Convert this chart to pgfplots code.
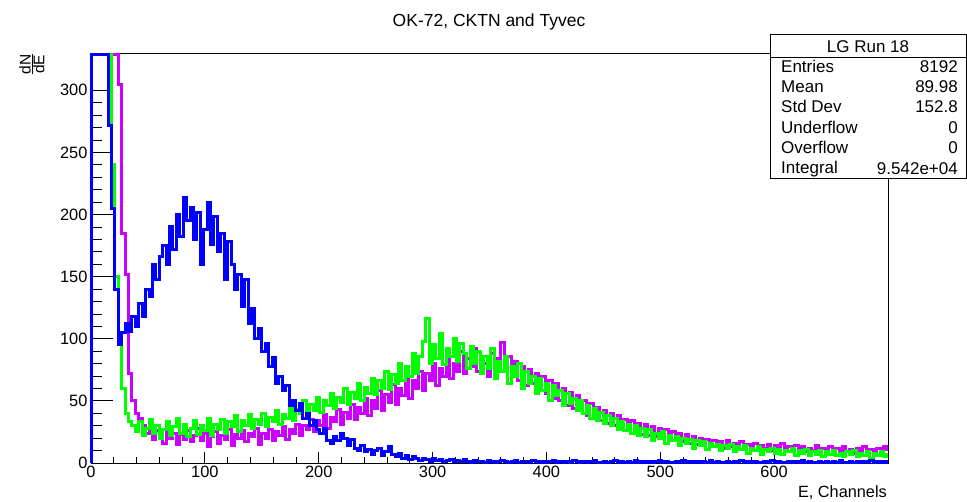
\documentclass[border=0pt]{standalone}
\usepackage{fontspec}
\setmainfont{Liberation Sans}
\usepackage{pgfplots}
\pgfplotsset{compat=1.18}
\definecolor{hblue}{RGB}{0,0,255}
\definecolor{hgreen}{RGB}{0,255,0}
\definecolor{hviolet}{RGB}{204,0,255}
\pgfplotsset{
  rootframe/.style={
    at={(91pt,39pt)}, anchor=south west,
    scale only axis, width=797pt, height=410pt,
    xmin=0, xmax=700, ymin=0, ymax=330,
    axis line style={black, line width=0.8pt},
    tick style={black, line width=0.8pt},
    /pgf/number format/assume math mode=true,
    tick label style={font=\fontsize{16.4}{19}\selectfont},
    clip=false,
  }
}
\begin{document}
\begin{tikzpicture}[x=1pt,y=1pt]
\path[use as bounding box, fill=white] (0,0) rectangle (967,502);
% x ticks axis
\begin{axis}[rootframe,
  xtick={0,100,...,600}, minor x tick num=4, ytick=\empty,
  xtick pos=bottom, major tick length=11pt, minor tick length=6pt]
\end{axis}
% data + y ticks
\begin{axis}[rootframe,
  ytick={0,50,...,300}, minor y tick num=4, xtick=\empty,
  ytick pos=left, major tick length=22pt, minor tick length=11pt,
  every axis plot/.append style={const plot, line width=3pt, mark=none}]
\addplot[hviolet] coordinates {(0,0)(0,329)(3,329)(6,329)(9,329)(12,329)(15,329)(18,329)(21,329)(24,305)(27,185)(30,152)(33,72)(36,50)(39,40)(42,36)(45,30)(48,24)(51,28)(54,19)(57,26)(60,22)(63,16)(66,27)(69,20)(72,24)(75,15)(78,23)(81,19)(84,26)(87,17)(90,22)(93,28)(96,18)(99,24)(102,13)(105,21)(108,25)(111,16)(114,22)(117,19)(120,27)(123,14)(126,23)(129,20)(132,26)(135,17)(138,24)(141,21)(144,28)(147,15)(150,24)(153,20)(156,27)(159,18)(162,25)(165,22)(168,29)(171,19)(174,27)(177,24)(180,31)(183,22)(186,30)(189,27)(192,35)(195,25)(198,34)(201,30)(204,39)(207,28)(210,37)(213,33)(216,43)(219,31)(222,41)(225,36)(228,47)(231,35)(234,45)(237,40)(240,52)(243,38)(246,50)(249,44)(252,58)(255,42)(258,55)(261,49)(264,63)(267,47)(270,60)(273,54)(276,68)(279,52)(282,66)(285,60)(288,74)(291,58)(294,72)(297,66)(300,80)(303,62)(306,76)(309,70)(312,86)(315,68)(318,80)(321,74)(324,90)(327,72)(330,84)(333,78)(336,92)(339,74)(342,86)(345,80)(348,70)(351,88)(354,76)(357,84)(360,97)(363,74)(366,86)(369,70)(372,82)(375,66)(378,78)(381,62)(384,75)(387,64)(390,72)(393,58)(396,70)(399,56)(402,66)(405,52)(408,64)(411,50)(414,60)(417,46)(420,57)(423,44)(426,54)(429,42)(432,50)(435,38)(438,48)(441,36)(444,45)(447,34)(450,42)(453,32)(456,40)(459,30)(462,38)(465,28)(468,35)(471,26)(474,34)(477,25)(480,32)(483,23)(486,31)(489,22)(492,29)(495,21)(498,28)(501,20)(504,27)(507,19)(510,25)(513,18)(516,24)(519,17)(522,23)(525,16)(528,21)(531,15)(534,20)(537,14)(540,19)(543,15)(546,18)(549,13)(552,17)(555,12)(558,18)(561,13)(564,16)(567,11)(570,17)(573,12)(576,15)(579,11)(582,16)(585,10)(588,14)(591,12)(594,15)(597,10)(600,14)(603,11)(606,16)(609,10)(612,13)(615,9)(618,14)(621,11)(624,13)(627,9)(630,12)(633,10)(636,14)(639,9)(642,12)(645,10)(648,13)(651,8)(654,12)(657,10)(660,13)(663,9)(666,11)(669,8)(672,12)(675,10)(678,13)(681,9)(684,11)(687,8)(690,12)(693,10)(696,13)(699,11)(700,11)};
\addplot[hgreen] coordinates {(0,0)(0,329)(3,329)(6,329)(9,329)(12,329)(15,329)(18,240)(21,150)(24,100)(27,60)(30,40)(33,33)(36,30)(39,25)(42,33)(45,22)(48,28)(51,35)(54,24)(57,30)(60,20)(63,27)(66,33)(69,22)(72,29)(75,36)(78,24)(81,31)(84,21)(87,28)(90,34)(93,23)(96,30)(99,26)(102,36)(105,22)(108,31)(111,27)(114,35)(117,24)(120,33)(123,29)(126,38)(129,25)(132,34)(135,30)(138,39)(141,28)(144,35)(147,31)(150,40)(153,29)(156,37)(159,33)(162,42)(165,31)(168,39)(171,36)(174,46)(177,34)(180,43)(183,40)(186,50)(189,38)(192,47)(195,42)(198,53)(201,41)(204,50)(207,46)(210,56)(213,44)(216,53)(219,49)(222,60)(225,47)(228,57)(231,52)(234,64)(237,50)(240,61)(243,56)(246,68)(249,55)(252,66)(255,60)(258,74)(261,59)(264,71)(267,64)(270,80)(273,66)(276,78)(279,70)(282,88)(285,72)(288,86)(291,98)(294,116)(297,80)(300,95)(303,84)(306,104)(309,79)(312,92)(315,86)(318,100)(321,82)(324,96)(327,88)(330,76)(333,94)(336,80)(339,90)(342,72)(345,86)(348,76)(351,92)(354,68)(357,82)(360,74)(363,86)(366,64)(369,78)(372,70)(375,80)(378,60)(381,74)(384,64)(387,70)(390,56)(393,68)(396,58)(399,64)(402,50)(405,62)(408,54)(411,58)(414,46)(417,56)(420,48)(423,52)(426,42)(429,50)(432,40)(435,46)(438,36)(441,44)(444,34)(447,41)(450,32)(453,38)(456,30)(459,36)(462,27)(465,33)(468,26)(471,31)(474,24)(477,30)(480,22)(483,28)(486,21)(489,27)(492,18)(495,24)(498,20)(501,25)(504,16)(507,22)(510,18)(513,21)(516,14)(519,20)(522,16)(525,19)(528,12)(531,18)(534,14)(537,17)(540,11)(543,16)(546,13)(549,15)(552,10)(555,14)(558,12)(561,15)(564,9)(567,13)(570,11)(573,14)(576,8)(579,12)(582,10)(585,13)(588,7)(591,11)(594,9)(597,12)(600,8)(603,11)(606,7)(609,10)(612,9)(615,12)(618,6)(621,10)(624,8)(627,11)(630,6)(633,9)(636,7)(639,10)(642,5)(645,9)(648,7)(651,10)(654,6)(657,8)(660,5)(663,9)(666,7)(669,10)(672,5)(675,8)(678,6)(681,9)(684,4)(687,8)(690,6)(693,9)(696,5)(699,7)(700,7)};
\addplot[hblue] coordinates {(0,0)(0,329)(3,329)(6,329)(9,329)(12,329)(15,272)(18,205)(21,140)(24,95)(27,105)(30,112)(33,106)(36,118)(39,110)(42,128)(45,118)(48,140)(51,134)(54,160)(57,148)(60,166)(63,175)(66,160)(69,190)(72,172)(75,200)(78,182)(81,214)(84,195)(87,206)(90,180)(93,202)(96,160)(99,188)(102,210)(105,176)(108,198)(111,170)(114,185)(117,148)(120,178)(123,160)(126,140)(129,152)(132,126)(135,148)(138,112)(141,124)(144,100)(147,108)(150,90)(153,96)(156,78)(159,85)(162,64)(165,70)(168,58)(171,62)(174,46)(177,50)(180,42)(183,48)(186,36)(189,40)(192,30)(195,34)(198,27)(201,24)(204,28)(207,18)(210,16)(213,21)(216,18)(219,24)(222,20)(225,14)(228,19)(231,12)(234,10)(237,14)(240,9)(243,11)(246,7)(249,10)(252,12)(255,6)(258,9)(261,13)(264,7)(267,5)(270,8)(273,4)(276,6)(279,3)(282,5)(285,4)(288,2)(291,4)(294,3)(297,1)(300,4)(303,2)(306,3)(309,1)(312,2)(315,3)(318,1)(321,2)(324,1)(327,3)(330,1)(333,0)(336,2)(339,1)(342,1)(345,0)(348,2)(351,1)(354,0)(357,1)(360,2)(363,1)(366,0)(369,1)(372,2)(375,0)(378,1)(381,1)(384,0)(387,2)(390,1)(393,0)(396,1)(399,0)(402,1)(405,2)(408,0)(411,1)(414,0)(417,1)(420,0)(423,2)(426,1)(429,0)(432,1)(435,0)(438,1)(441,2)(444,0)(447,0)(450,1)(453,0)(456,1)(459,2)(462,0)(465,1)(468,0)(471,1)(474,0)(477,2)(480,0)(483,1)(486,0)(489,1)(492,0)(495,1)(498,2)(501,0)(504,1)(507,0)(510,0)(513,1)(516,0)(519,2)(522,0)(525,1)(528,0)(531,1)(534,0)(537,1)(540,0)(543,2)(546,0)(549,1)(552,0)(555,0)(558,1)(561,0)(564,1)(567,0)(570,2)(573,0)(576,1)(579,0)(582,1)(585,0)(588,0)(591,1)(594,0)(597,2)(600,0)(603,1)(606,0)(609,0)(612,1)(615,0)(618,1)(621,0)(624,2)(627,0)(630,1)(633,0)(636,0)(639,1)(642,0)(645,1)(648,0)(651,1)(654,0)(657,2)(660,0)(663,0)(666,1)(669,0)(672,1)(675,0)(678,1)(681,0)(684,2)(687,0)(690,1)(693,0)(696,1)(699,0)(700,0)};
\end{axis}
% title and axis labels
\node[anchor=base, font=\fontsize{17.5}{21}\selectfont, inner sep=0pt] at (489,475.5) {OK-72, CKTN and Tyvec};
\node[anchor=base east, font=\fontsize{16.3}{19}\selectfont, inner sep=0pt] at (887,4.5) {E, Channels};
\node[rotate=90, anchor=east, inner sep=0pt, font=\fontsize{15.5}{18}\selectfont] at (32,449) {$\frac{\textrm{dN}}{\textrm{dE}}$};
% stats box
\draw[fill=white, line width=0.8pt] (770,467.5) rectangle (966.6,324);
\draw[line width=0.8pt] (770,445) -- (966.6,445);
\begin{scope}[every node/.style={inner sep=0pt, font=\fontsize{17}{20}\selectfont}]
\node[anchor=base] at (868,449) {LG Run 18};
\node[anchor=base west] at (781,429) {Entries};
\node[anchor=base east] at (958,429) {8192};
\node[anchor=base west] at (781,409) {Mean};
\node[anchor=base east] at (958,409) {89.98};
\node[anchor=base west] at (781,389) {Std Dev};
\node[anchor=base east] at (958,389) {152.8};
\node[anchor=base west] at (781,368) {Underflow};
\node[anchor=base east] at (958,368) {0};
\node[anchor=base west] at (781,348) {Overflow};
\node[anchor=base east] at (958,348) {0};
\node[anchor=base west] at (781,328) {Integral};
\node[anchor=base east] at (958,327) {9.542e+04};
\end{scope}
\end{tikzpicture}
\end{document}
